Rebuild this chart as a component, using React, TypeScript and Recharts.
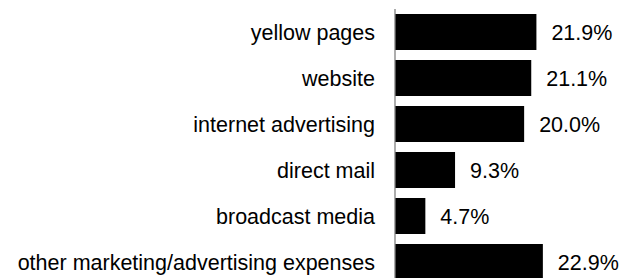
import { Bar, BarChart, LabelList, XAxis, YAxis } from 'recharts';

const categories = [
  'yellow pages',
  'website',
  'internet advertising',
  'direct mail',
  'broadcast media',
  'other marketing/advertising expenses',
];

const shares = [21.9, 21.1, 20.0, 9.3, 4.7, 22.9];

const data = categories.map((name, i) => ({ name, value: shares[i] }));

const font = '"Liberation Sans", Arial, sans-serif';

export default function App() {
  return (
    <div style={{ position: 'absolute', left: 0, top: 0, background: '#fff' }}>
      <BarChart
        width={624}
        height={290}
        data={data}
        layout="vertical"
        margin={{ top: 9, right: 3, left: 0, bottom: 5 }}
      >
        <XAxis type="number" domain={[0, 35]} hide />
        <YAxis
          type="category"
          dataKey="name"
          width={395}
          axisLine={{ stroke: '#808080', strokeWidth: 1.3 }}
          tickLine={false}
          tickMargin={14}
          interval={0}
          tick={{ fontSize: 21.5, fill: '#000', fontFamily: font }}
        />
        <Bar dataKey="value" fill="#000" barSize={36} isAnimationActive={false}>
          <LabelList
            dataKey="value"
            position="right"
            offset={15}
            formatter={(v: number) => `${v.toFixed(1)}%`}
            style={{ fontSize: 21.5, fill: '#000', fontFamily: font }}
          />
        </Bar>
      </BarChart>
    </div>
  );
}
